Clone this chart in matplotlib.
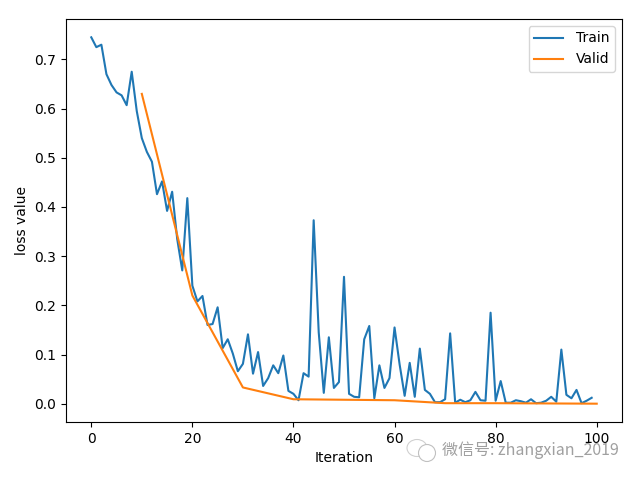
import matplotlib
matplotlib.use('Agg')
import matplotlib.pyplot as plt
from matplotlib.patches import Ellipse

train_loss = [0.745, 0.725, 0.73, 0.67, 0.648, 0.633, 0.627, 0.607, 0.675, 0.595,
              0.54, 0.512, 0.492, 0.426, 0.452, 0.392, 0.431, 0.335, 0.271, 0.418,
              0.24, 0.208, 0.219, 0.16, 0.162, 0.196, 0.113, 0.131, 0.102, 0.066,
              0.081, 0.141, 0.061, 0.105, 0.036, 0.052, 0.078, 0.062, 0.098, 0.026,
              0.02, 0.007, 0.062, 0.055, 0.373, 0.145, 0.022, 0.135, 0.032, 0.044,
              0.258, 0.02, 0.014, 0.013, 0.131, 0.158, 0.011, 0.078, 0.032, 0.052,
              0.155, 0.08, 0.016, 0.083, 0.014, 0.112, 0.028, 0.02, 0.003, 0.003,
              0.009, 0.143, 0.002, 0.008, 0.003, 0.007, 0.024, 0.007, 0.006, 0.185,
              0.006, 0.046, 0.002, 0.002, 0.007, 0.005, 0.002, 0.009, 0.001, 0.002,
              0.006, 0.014, 0.004, 0.11, 0.018, 0.011, 0.028, 0.001, 0.006, 0.012]
valid_iter = [10, 20, 30, 40, 50, 60, 70, 80, 90, 100]
valid_loss = [0.63, 0.22, 0.033, 0.009, 0.008, 0.007, 0.001, 0.001, 0.0005, 0.0]
watermark = '微信号: zhangxian_2019'

fig, ax = plt.subplots(figsize=(6.4, 4.8), dpi=100)
ax.plot(range(len(train_loss)), train_loss, label='Train')
ax.plot(valid_iter, valid_loss, label='Valid')
ax.set_xlabel('Iteration')
ax.set_ylabel('loss value')
ax.legend(handlelength=2.1, handletextpad=0.9)
fig.subplots_adjust(left=66 / 640, right=622 / 640, top=1 - 19 / 480, bottom=1 - 422 / 480)

# watermark sits on top of the figure, in pixel-ish figure coords
fig.text(442 / 640, 1 - 450 / 480, watermark, fontsize=11.5, color='#a0a0a0', va='center',
         family=['Noto Sans CJK SC', 'DejaVu Sans'])
w = fig.add_axes([0, 0, 1, 1], facecolor='none')
w.set_xlim(0, 640)
w.set_ylim(480, 0)
w.axis('off')
w.add_patch(Ellipse((417, 448), 20, 17, fill=False, ec='#d0d0d0', lw=0.8))
w.add_patch(Ellipse((427, 453), 17, 17, fc='white', ec='#c0c0c0', lw=0.8))

plt.savefig('out.png', dpi=100)
